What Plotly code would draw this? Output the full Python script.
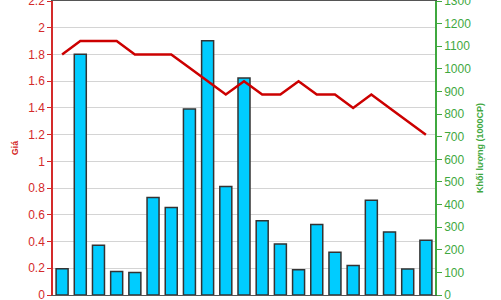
import plotly.graph_objects as go

sessions = [f"S{i+1}" for i in range(21)]
price = [1.8, 1.9, 1.9, 1.9, 1.8, 1.8, 1.8, 1.7, 1.6, 1.5, 1.6, 1.5, 1.5, 1.6, 1.5, 1.5, 1.4, 1.5, 1.4, 1.3, 1.2]
volume = [116, 1064, 220, 104, 99, 431, 387, 822, 1124, 480, 959, 328, 226, 112, 312, 189, 130, 419, 279, 115, 242]

price_ticks = [round(0.2 * i, 1) for i in range(12)]
price_labels = ["0", "0.2", "0.4", "0.6", "0.8", "1", "1.2", "1.4", "1.6", "1.8", "2", "2.2"]
vol_ticks = list(range(0, 1400, 100))

RED = "#D42A2A"
GREEN = "#3FA83F"
FONT = "Liberation Sans, Arial, sans-serif"

fig = go.Figure()
fig.add_trace(go.Bar(
    x=sessions, y=volume, yaxis="y",
    marker=dict(color="#00CCFF", line=dict(color="#333333", width=1.5)),
    showlegend=False,
))
fig.add_trace(go.Scatter(
    x=sessions, y=price, yaxis="y2", mode="lines",
    line=dict(color="#CC0000", width=2.5),
    showlegend=False,
))

fig.update_layout(
    width=501, height=300,
    margin=dict(l=53, r=66, t=1, b=5, autoexpand=False),
    paper_bgcolor="white", plot_bgcolor="white",
    bargap=0.34,
    font=dict(family=FONT),
    xaxis=dict(showticklabels=False, ticks="", showgrid=False, automargin=False,
               showline=True, linecolor="#555555", linewidth=1, mirror=True,
               zeroline=False),
    yaxis=dict(side="right", range=[0, 1300], tickvals=vol_ticks,
               showgrid=False, zeroline=False, automargin=False,
               showline=True, linecolor=GREEN, linewidth=1.5,
               ticks="outside", ticklen=5, tickcolor=GREEN, tickwidth=1,
               ticklabeloverflow="allow",
               tickfont=dict(color=GREEN, size=12, family=FONT),
               title=dict(text="<b>Khối lượng (1000CP)</b>", font=dict(color=GREEN, size=9), standoff=7)),
    yaxis2=dict(side="left", overlaying="y", range=[0, 2.2], automargin=False,
                tickvals=price_ticks, ticktext=price_labels,
                showgrid=True, gridcolor="#D4D4D4", gridwidth=1, zeroline=False,
                showline=True, linecolor=RED, linewidth=1.5,
                ticks="outside", ticklen=4, tickcolor=RED, tickwidth=1,
                ticklabeloverflow="allow",
                tickfont=dict(color=RED, size=12, family=FONT),
                title=dict(text="<b>Giá</b>", font=dict(color=RED, size=9), standoff=8)),
)

fig.write_html("out.html")
